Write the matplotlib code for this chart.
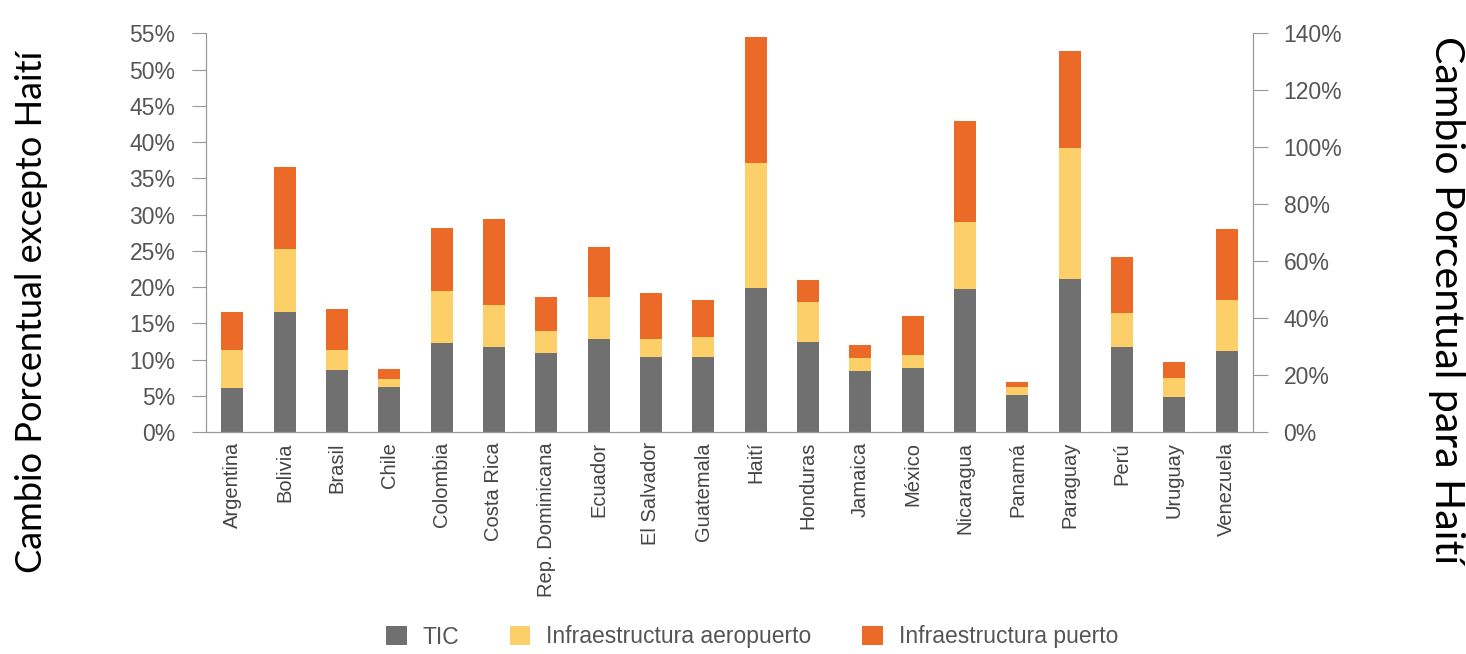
import matplotlib
matplotlib.use("Agg")
import matplotlib.pyplot as plt
import numpy as np
from matplotlib.patches import Patch

countries = ["Argentina", "Bolivia", "Brasil", "Chile", "Colombia", "Costa Rica",
             "Rep. Dominicana", "Ecuador", "El Salvador", "Guatemala", "Haití",
             "Honduras", "Jamaica", "México", "Nicaragua", "Panamá", "Paraguay",
             "Perú", "Uruguay", "Venezuela"]

# Values in % (Haití values on the right-axis scale)
tic = [6.1, 16.6, 8.6, 6.3, 12.3, 11.8, 11.0, 12.9, 10.4, 10.4, 50.5,
       12.5, 8.4, 8.8, 19.7, 5.2, 21.1, 11.8, 4.8, 11.2]
aeropuerto = [5.2, 8.6, 2.7, 1.1, 7.2, 5.8, 2.9, 5.8, 2.5, 2.8, 44.1,
              5.4, 1.8, 1.9, 9.3, 1.0, 18.1, 4.6, 2.7, 7.0]
puerto = [5.3, 11.4, 5.7, 1.3, 8.6, 11.8, 4.7, 6.8, 6.3, 5.0, 44.2,
          3.1, 1.8, 5.3, 13.9, 0.8, 13.4, 7.8, 2.2, 9.8]

series_names = ["TIC", "Infraestructura aeropuerto", "Infraestructura puerto"]
colors = ["#707070", "#fdcf68", "#ec6a27"]

left_ticks = list(range(0, 56, 5))
right_ticks = list(range(0, 141, 20))

fig = plt.figure(figsize=(14.66, 6.54), dpi=100)
ax = fig.add_axes([206/1466, 1-432.3/654, (1253-206)/1466, (432.3-33.3)/654])
ax2 = ax.twinx()

x = np.arange(len(countries))
w = 0.42
haiti = countries.index("Haití")
others = [i for i in x if i != haiti]

t = np.array(tic); a = np.array(aeropuerto); p = np.array(puerto)
ax.bar(x[others], t[others], w, color=colors[0], zorder=2)
ax.bar(x[others], a[others], w, bottom=t[others], color=colors[1], zorder=2)
ax.bar(x[others], p[others], w, bottom=t[others]+a[others], color=colors[2], zorder=2)
ax2.bar([haiti], t[haiti], w, color=colors[0])
ax2.bar([haiti], a[haiti], w, bottom=t[haiti], color=colors[1])
ax2.bar([haiti], p[haiti], w, bottom=t[haiti]+a[haiti], color=colors[2])

ax.set_xlim(-0.5, len(countries)-0.5)
ax.set_ylim(0, 55)
ax2.set_ylim(0, 140)

tick_font = dict(family="Liberation Sans", size=16.5)
ax.set_yticks(left_ticks)
ax.set_yticklabels([f"{v}%" for v in left_ticks], color="#555555", **tick_font)
ax2.set_yticks(right_ticks)
ax2.set_yticklabels([f"{v}%" for v in right_ticks], color="#555555", **tick_font)
ax.set_xticks(x)
ax.set_xticklabels(countries, rotation=90, color="#444444", family="Liberation Sans", size=14.5)

for a_ in (ax, ax2):
    a_.spines["top"].set_visible(False)
    for s in ["left", "right", "bottom"]:
        a_.spines[s].set_color("#999999")
ax.tick_params(axis="y", direction="out", length=10, color="#999999", pad=12)
ax2.tick_params(axis="y", direction="out", length=11, color="#999999", pad=11)
ax.tick_params(axis="x", length=0, pad=7)

fig.text(32/1466, 1-312/654, "Cambio Porcentual excepto Haití", rotation=90,
         ha="center", va="center", family="Lato", size=26, color="black")
fig.text(1446/1466, 1-300/654, "Cambio Porcentual para Haití", rotation=-90,
         ha="center", va="center", family="Lato", size=29.5, color="black")

handles = [Patch(facecolor=c, edgecolor="none") for c in colors]
fig.legend(handles, series_names, loc="center", bbox_to_anchor=(752/1466, 1-637/654),
           ncol=3, frameon=False, prop=dict(family="Liberation Sans", size=16.5),
           handlelength=0.9, handleheight=0.9, columnspacing=2.2, handletextpad=0.7,
           labelcolor="#555555")

fig.savefig("out.png", dpi=100)
